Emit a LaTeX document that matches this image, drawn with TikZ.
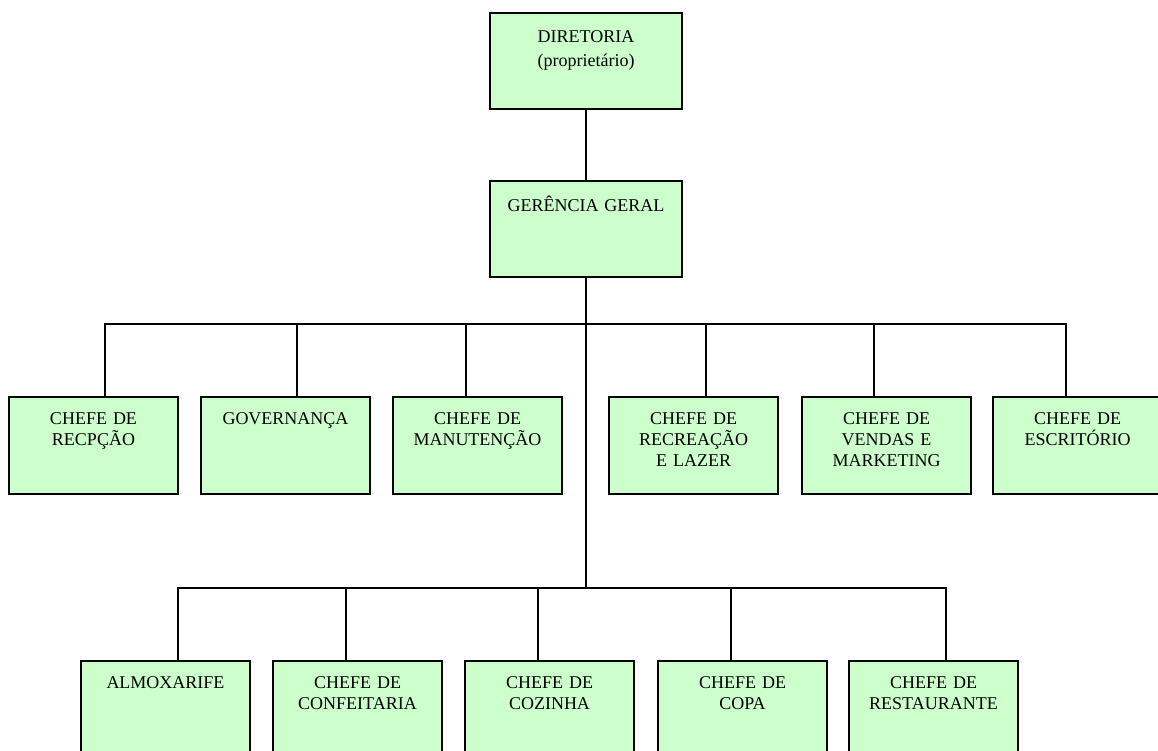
\documentclass[tikz,border=0pt]{standalone}
\usepackage{fontspec}
\setmainfont{Liberation Serif}
\usepackage{xcolor}
\usetikzlibrary{calc}

\definecolor{boxgreen}{RGB}{204,255,204}

\begin{document}
\begin{tikzpicture}[x=1pt, y=-1pt,
    unit/.style={draw, fill=boxgreen, line width=1.8pt, anchor=north, inner sep=0pt,
      align=center, text width=169pt, text height=28pt, text depth=69pt,
      font=\fontsize{18}{21}\selectfont},
    topunit/.style={unit, text width=192pt, text height=30pt, text depth=66pt},
    link/.style={line width=1.4pt}]
    \useasboundingbox (0,0) rectangle (1158,751);
    \clip (0,0) rectangle (1158,751);

    \coordinate (bus2) at (586,324);
    \coordinate (bus3) at (586,588);

    \node[topunit] (dir) at (586,12) {DIRETORIA\\[3pt](proprietário)};
    \node[topunit, text height=31pt, text depth=65pt] (ger) at (586,180) {GERÊNCIA GERAL};

    % second level
    \node[unit] (recepcao) at (93.5,396) {CHEFE DE\\RECPÇÃO};
    \node[unit] (governanca) at (285.5,396) {GOVERNANÇA};
    \node[unit] (manutencao) at (477.5,396) {CHEFE DE\\MANUTENÇÃO};
    \node[unit] (recreacao) at (693.5,396) {CHEFE DE\\RECREAÇÃO\\E LAZER};
    \node[unit] (vendas) at (886.5,396) {CHEFE DE\\VENDAS E\\MARKETING};
    \node[unit] (escritorio) at (1077.5,396) {CHEFE DE\\ESCRITÓRIO};

    % third level
    \node[unit] (almox) at (165.5,660) {ALMOXARIFE};
    \node[unit] (confeitaria) at (357.5,660) {CHEFE DE\\CONFEITARIA};
    \node[unit] (cozinha) at (549.5,660) {CHEFE DE\\COZINHA};
    \node[unit] (copa) at (742.5,660) {CHEFE DE\\COPA};
    \node[unit] (restaurante) at (933.5,660) {CHEFE DE\\RESTAURANTE};

    \draw[link] (dir.south) -- (ger.north);
    \draw[link] (ger.south) -- (bus3);

    \draw[link] ([xshift=11.5pt]recepcao.north) |- (bus2);
    \draw[link] ([xshift=11.5pt]governanca.north) |- (bus2);
    \draw[link] ([xshift=-11.5pt]manutencao.north) |- (bus2);
    \draw[link] ([xshift=12.5pt]recreacao.north) |- (bus2);
    \draw[link] ([xshift=-12.5pt]vendas.north) |- (bus2);
    \draw[link] ([xshift=-11.5pt]escritorio.north) |- (bus2);

    \draw[link] ([xshift=12.5pt]almox.north) |- (bus3);
    \draw[link] ([xshift=-11.5pt]confeitaria.north) |- (bus3);
    \draw[link] ([xshift=-11.5pt]cozinha.north) |- (bus3);
    \draw[link] ([xshift=-11.5pt]copa.north) |- (bus3);
    \draw[link] ([xshift=12.5pt]restaurante.north) |- (bus3);
\end{tikzpicture}
\end{document}
